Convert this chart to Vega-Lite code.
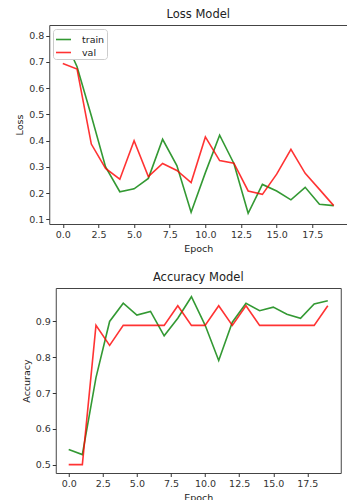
{
  "$schema": "https://vega.github.io/schema/vega-lite/v6.json",
  "background": "white",
  "padding": {"left": 14, "top": 8, "right": 0, "bottom": 0},
  "spacing": 18,
  "center": true,
  "config": {
    "font": "DejaVu Sans",
    "view": {"stroke": "#444", "strokeWidth": 1},
    "axis": {"domain": false, "grid": false, "tickColor": "#333", "tickSize": 3.5, "labelColor": "#333", "labelFontSize": 9.5, "labelFont": "DejaVu Sans", "titleFont": "DejaVu Sans", "titleFontSize": 9.5, "titleFontWeight": "normal", "titleColor": "#222", "labelPadding": 2},
    "title": {"font": "DejaVu Sans", "fontSize": 11.5, "fontWeight": "normal", "color": "#222", "offset": 5},
    "legend": {"labelFont": "DejaVu Sans", "labelFontSize": 9.5, "labelColor": "#222", "symbolType": "stroke", "symbolSize": 225, "symbolStrokeWidth": 1.6, "strokeColor": "#ccc", "fillColor": "white", "padding": 2, "cornerRadius": 3, "rowPadding": 0, "labelOffset": 10}
  },
  "datasets": {
    "loss": [
      {"epoch": 0, "series": "train", "value": 0.803}, {"epoch": 1, "series": "train", "value": 0.682}, {"epoch": 2, "series": "train", "value": 0.495}, {"epoch": 3, "series": "train", "value": 0.300}, {"epoch": 4, "series": "train", "value": 0.205}, {"epoch": 5, "series": "train", "value": 0.216}, {"epoch": 6, "series": "train", "value": 0.256}, {"epoch": 7, "series": "train", "value": 0.405}, {"epoch": 8, "series": "train", "value": 0.305}, {"epoch": 9, "series": "train", "value": 0.127}, {"epoch": 10, "series": "train", "value": 0.278}, {"epoch": 11, "series": "train", "value": 0.421}, {"epoch": 12, "series": "train", "value": 0.313}, {"epoch": 13, "series": "train", "value": 0.123}, {"epoch": 14, "series": "train", "value": 0.233}, {"epoch": 15, "series": "train", "value": 0.208}, {"epoch": 16, "series": "train", "value": 0.174}, {"epoch": 17, "series": "train", "value": 0.222}, {"epoch": 18, "series": "train", "value": 0.157}, {"epoch": 19, "series": "train", "value": 0.152},
      {"epoch": 0, "series": "val", "value": 0.694}, {"epoch": 1, "series": "val", "value": 0.673}, {"epoch": 2, "series": "val", "value": 0.387}, {"epoch": 3, "series": "val", "value": 0.294}, {"epoch": 4, "series": "val", "value": 0.253}, {"epoch": 5, "series": "val", "value": 0.400}, {"epoch": 6, "series": "val", "value": 0.263}, {"epoch": 7, "series": "val", "value": 0.313}, {"epoch": 8, "series": "val", "value": 0.286}, {"epoch": 9, "series": "val", "value": 0.240}, {"epoch": 10, "series": "val", "value": 0.414}, {"epoch": 11, "series": "val", "value": 0.324}, {"epoch": 12, "series": "val", "value": 0.314}, {"epoch": 13, "series": "val", "value": 0.208}, {"epoch": 14, "series": "val", "value": 0.195}, {"epoch": 15, "series": "val", "value": 0.272}, {"epoch": 16, "series": "val", "value": 0.367}, {"epoch": 17, "series": "val", "value": 0.275}, {"epoch": 18, "series": "val", "value": 0.214}, {"epoch": 19, "series": "val", "value": 0.152}
    ],
    "acc": [
      {"epoch": 0, "series": "train", "value": 0.542}, {"epoch": 1, "series": "train", "value": 0.528}, {"epoch": 2, "series": "train", "value": 0.743}, {"epoch": 3, "series": "train", "value": 0.900}, {"epoch": 4, "series": "train", "value": 0.951}, {"epoch": 5, "series": "train", "value": 0.918}, {"epoch": 6, "series": "train", "value": 0.928}, {"epoch": 7, "series": "train", "value": 0.860}, {"epoch": 8, "series": "train", "value": 0.909}, {"epoch": 9, "series": "train", "value": 0.969}, {"epoch": 10, "series": "train", "value": 0.890}, {"epoch": 11, "series": "train", "value": 0.791}, {"epoch": 12, "series": "train", "value": 0.898}, {"epoch": 13, "series": "train", "value": 0.951}, {"epoch": 14, "series": "train", "value": 0.930}, {"epoch": 15, "series": "train", "value": 0.940}, {"epoch": 16, "series": "train", "value": 0.920}, {"epoch": 17, "series": "train", "value": 0.909}, {"epoch": 18, "series": "train", "value": 0.949}, {"epoch": 19, "series": "train", "value": 0.958},
      {"epoch": 0, "series": "val", "value": 0.5}, {"epoch": 1, "series": "val", "value": 0.5}, {"epoch": 2, "series": "val", "value": 0.889}, {"epoch": 3, "series": "val", "value": 0.833}, {"epoch": 4, "series": "val", "value": 0.889}, {"epoch": 5, "series": "val", "value": 0.889}, {"epoch": 6, "series": "val", "value": 0.889}, {"epoch": 7, "series": "val", "value": 0.889}, {"epoch": 8, "series": "val", "value": 0.944}, {"epoch": 9, "series": "val", "value": 0.889}, {"epoch": 10, "series": "val", "value": 0.889}, {"epoch": 11, "series": "val", "value": 0.944}, {"epoch": 12, "series": "val", "value": 0.889}, {"epoch": 13, "series": "val", "value": 0.944}, {"epoch": 14, "series": "val", "value": 0.889}, {"epoch": 15, "series": "val", "value": 0.889}, {"epoch": 16, "series": "val", "value": 0.889}, {"epoch": 17, "series": "val", "value": 0.889}, {"epoch": 18, "series": "val", "value": 0.889}, {"epoch": 19, "series": "val", "value": 0.944}
    ]
  },
  "vconcat": [
    {
      "title": "Loss Model",
      "width": 298,
      "height": 199,
      "data": {"name": "loss"},
      "mark": {"type": "line", "strokeWidth": 1.6, "opacity": 0.8},
      "encoding": {
        "x": {"field": "epoch", "type": "quantitative", "title": "Epoch", "scale": {"domain": [-0.95, 19.95], "nice": false, "zero": false}, "axis": {"values": [0, 2.5, 5, 7.5, 10, 12.5, 15, 17.5], "format": ".1f"}},
        "y": {"field": "value", "type": "quantitative", "title": "Loss", "scale": {"domain": [0.082, 0.841], "nice": false, "zero": false}, "axis": {"values": [0.1, 0.2, 0.3, 0.4, 0.5, 0.6, 0.7, 0.8], "format": ".1f"}},
        "color": {"field": "series", "type": "nominal", "scale": {"domain": ["train", "val"], "range": ["#008000", "#ff0000"]}, "legend": {"title": null, "orient": "top-left", "offset": 4}}
      }
    },
    {
      "title": "Accuracy Model",
      "width": 285,
      "height": 185,
      "data": {"name": "acc"},
      "mark": {"type": "line", "strokeWidth": 1.6, "opacity": 0.8},
      "encoding": {
        "x": {"field": "epoch", "type": "quantitative", "title": "Epoch", "scale": {"domain": [-0.95, 19.95], "nice": false, "zero": false}, "axis": {"values": [0, 2.5, 5, 7.5, 10, 12.5, 15, 17.5], "format": ".1f"}},
        "y": {"field": "value", "type": "quantitative", "title": "Accuracy", "scale": {"domain": [0.4765, 0.9935], "nice": false, "zero": false}, "axis": {"values": [0.5, 0.6, 0.7, 0.8, 0.9], "format": ".1f"}},
        "color": {"field": "series", "type": "nominal", "scale": {"domain": ["train", "val"], "range": ["#008000", "#ff0000"]}, "legend": {"title": null, "orient": "top-left", "offset": 4}}
      }
    }
  ],
  "resolve": {"scale": {"color": "shared"}}
}
